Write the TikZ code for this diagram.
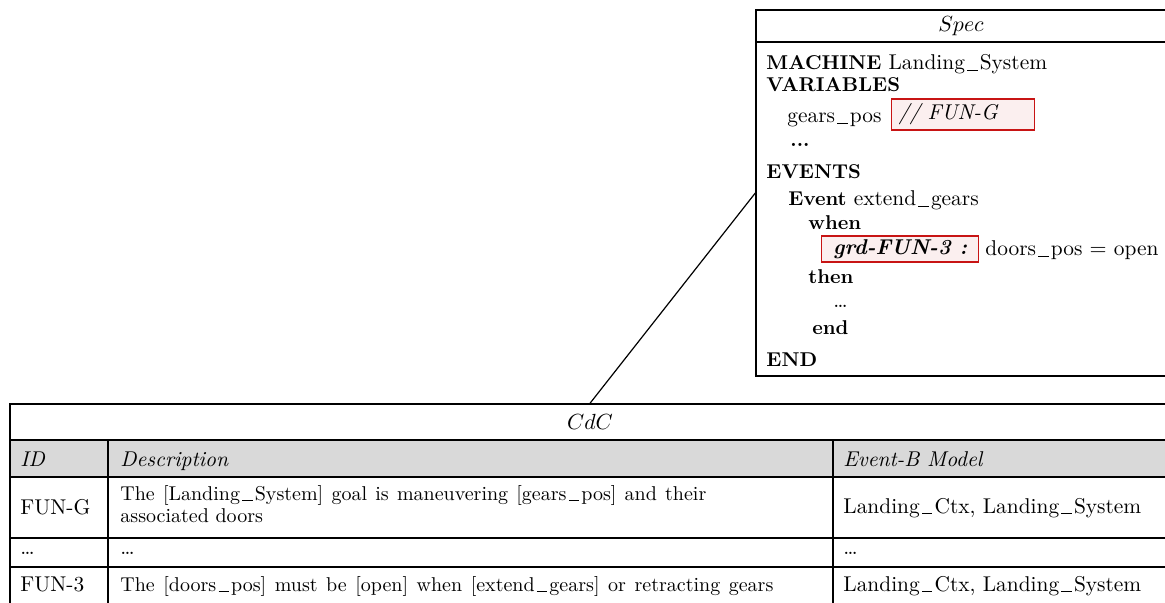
\documentclass[tikz,border=0pt]{standalone}
\usepackage{amsmath}
\usepackage{tikz}
\usetikzlibrary{arrows,shapes}
\definecolor{tagred}{RGB}{200,20,20}
\newcommand{\kw}[1]{{\fontsize{10}{12}\bfseries #1}}
\newcommand{\us}{\kern1.1pt\rule[-0.6pt]{5.2pt}{0.45pt}\kern1.1pt}
\tikzstyle{frame}=[draw,line width=0.7pt,inner sep=0pt]
\tikzstyle{rule}=[draw,line width=0.7pt]
\tikzstyle{code}=[anchor=base west,inner sep=0pt]
\tikzstyle{cell}=[anchor=base west,inner sep=0pt]
\tikzstyle{desc}=[cell,font=\fontsize{10}{12}\selectfont]
\tikzstyle{tag}=[draw=tagred,fill=tagred!7,line width=0.7pt,inner sep=0pt]
\tikzstyle{link}=[draw,line width=0.6pt,-]

\begin{document}
\begin{tikzpicture}[x=0.5pt,y=-0.5pt,font=\fontsize{10.7}{12.8}\selectfont]
    \useasboundingbox (0,0) rectangle (1165,603);
    % First we draw the Spec machine
    \node[frame,minimum width=205pt,minimum height=183pt] (spec) at (961,193) {};
    \path[rule] (756,42) -- (1166,42);
    \node (spectitle) at (961,26) {$Spec$};
    \foreach \pos/\name/\txt in {{(766,70)/mach/{\kw{MACHINE} Landing\us System}},
        {(766,92)/vars/{\kw{VARIABLES}}}, {(787,123)/gpos/{gears\us pos}},
        {(790,147)/vdots/{\kw{...}}}, {(766,179)/evts/{\kw{EVENTS}}},
        {(788,206)/evt/{\kw{Event} extend\us gears}}, {(808,230)/when/{\kw{when}}},
        {(985,256)/grd/{doors\us pos $=$ open}}, {(808,284)/then/{\kw{then}}},
        {(833,308)/act/{\ldots}}, {(812,335)/endevt/{\kw{end}}}, {(766,367)/endm/{\kw{END}}}}
        \node[code] (\name) at \pos {\txt};
    % Tags that trace the CdC ids
    \node[tag,minimum width=71.5pt,minimum height=15.5pt,text width=64.5pt,inner xsep=3.5pt,anchor=west] (tagG) at (891,114.5) {\textit{// FUN-G}};
    \node[tag,minimum width=78.5pt,minimum height=13pt,anchor=west] (tag3) at (821,249) {\textbf{\textit{grd-FUN-3 :}}};

    % Then the CdC table
    \fill[black!15] (10,440) rectangle (1170,477);
    \node[frame,minimum width=580pt,minimum height=108pt] (cdc) at (590,512) {};
    \foreach \y in {440,477,538,567}
        \path[rule] (10,\y) -- (1170,\y);
    \foreach \x in {108,833}
        \path[rule] (\x,440) -- (\x,620);
    \node (cdctitle) at (590,422) {$CdC$};
    \foreach \pos/\name/\txt in {{(20,466)/hid/ID}, {(120,466)/hdesc/Description}, {(843,466)/hmodel/Event-B Model}}
        \node[cell] (\name) at \pos {\textit{\txt}};
    \foreach \pos/\name/\txt in {{(20,514)/idG/FUN-G}, {(843,513)/modG/{Landing\us Ctx, Landing\us System}},
        {(20,554)/idx/{\ldots}}, {(120,554)/descx/{\ldots}}, {(843,554)/modx/{\ldots}},
        {(20,591)/id3/FUN-3}, {(843,591)/mod3/{Landing\us Ctx, Landing\us System}}}
        \node[cell] (\name) at \pos {\txt};
    \node[desc] (descGa) at (120,500) {\makebox[293pt][s]{The [Landing\us System] goal is maneuvering [gears\us pos] and their}};
    \node[desc] (descGb) at (120,522) {associated doors};
    \node[desc] (desc3) at (120,591) {\makebox[326.5pt][s]{The [doors\us pos] must be [open] when [extend\us gears] or retracting gears}};

    % Connect the table with the machine
    \path[link] (cdc.north) -- (spec.west);
\end{tikzpicture}
\end{document}
